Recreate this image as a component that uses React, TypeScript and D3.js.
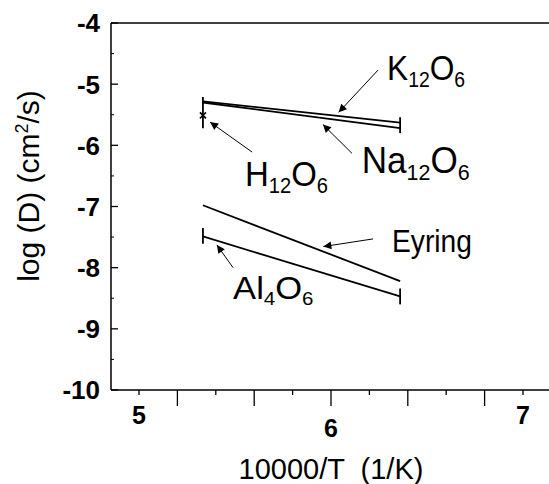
import React from "react";
import * as d3 from "d3";

// ---- data ----
const seriesNames = ["K12O6", "Na12O6", "Eyring", "Al4O6"];
const xStart = 5.333;
const xEnd = 6.36;
const kValues = [-5.28, -5.63];
const naValues = [-5.30, -5.72];
const eyringValues = [-6.98, -8.22];
const alValues = [-7.49, -8.47];
const hPoint = { x: 5.333, y: -5.51 };
// vertical bars (x, yLow, yHigh)
const errBars = [
  { x: 5.333, lo: -5.72, hi: -5.21 },
  { x: 6.36, lo: -5.8, hi: -5.54 },
  { x: 5.333, lo: -7.61, hi: -7.35 },
  { x: 6.36, lo: -8.6, hi: -8.34 },
];
const yTicks = [-4, -5, -6, -7, -8, -9, -10];
const yMinorTicks = [-4.5, -5.5, -6.5, -7.5, -8.5, -9.5];
const xMajorTicks = [5.2, 5.6, 6.0, 6.4, 6.8];
const xMinorTicks = [5.0, 5.4, 5.8, 6.2, 6.6, 7.0];
const xTickLabels = [
  { v: 5, t: "5", low: false },
  { v: 6, t: "6", low: true },
  { v: 7, t: "7", low: false },
];
// annotation arrows: from (x1,y1) to (x2,y2) in data units
const arrows = [
  { x1: 6.245, y1: -4.77, x2: 6.04, y2: -5.46 },
  { x1: 6.109, y1: -6.13, x2: 5.958, y2: -5.66 },
  { x1: 5.589, y1: -6.11, x2: 5.37, y2: -5.62 },
  { x1: 6.219, y1: -7.53, x2: 5.96, y2: -7.655 },
  { x1: 5.49, y1: -8.0, x2: 5.406, y2: -7.63 },
];
// labels: parts with subscripts, anchor at left baseline in data units
const labels = [
  { x: 6.292, y: -4.93, parts: [["K", 0], ["12", 1], ["O", 0], ["6", 1]] },
  { x: 6.16, y: -6.46, parts: [["Na", 0], ["12", 1], ["O", 0], ["6", 1]] },
  { x: 5.552, y: -6.66, parts: [["H", 0], ["12", 1], ["O", 0], ["6", 1]] },
  { x: 6.318, y: -7.75, parts: [["Eyring", 0]] },
  { x: 5.49, y: -8.51, parts: [["Al", 0], ["4", 1], ["O", 0], ["6", 1]] },
];
// label styles (font size, horizontal scale)
const labelStyle = [
  { fs: 36, sx: 0.88 },
  { fs: 36, sx: 0.975 },
  { fs: 36, sx: 0.915 },
  { fs: 32, sx: 0.88 },
  { fs: 32, sx: 1.08 },
];

const W = 549;
const H = 484;
const left = 111;
const top = 23;
const bottom = 390;

export default function App() {
  const x = d3.scaleLinear().domain([5, 7]).range([139, 523]);
  const y = d3.scaleLinear().domain([-4, -10]).range([top, bottom]);
  const line = d3
    .line<[number, number]>()
    .x((d) => x(d[0]))
    .y((d) => y(d[1]));
  const series = [kValues, naValues, eyringValues, alValues];
  const tickFont = "'Liberation Sans', Arial, sans-serif";
  const labFont = "'Liberation Sans', Arial, sans-serif";

  return (
    <svg
      width={W}
      height={H}
      style={{ position: "absolute", left: 0, top: 0, background: "#fff" }}
    >
      <defs>
        <marker
          id="ah"
          viewBox="0 0 10 10"
          refX="10"
          refY="5"
          markerWidth="11"
          markerHeight="8"
          markerUnits="userSpaceOnUse"
          orient="auto"
        >
          <path d="M0,0 L10,5 L0,10 z" fill="#000" />
        </marker>
      </defs>
      <rect width={W} height={H} fill="#fff" />
      {/* frame */}
      <line x1={left} x2={W} y1={top} y2={top} stroke="#000" strokeWidth={1.5} />
      <line x1={left} x2={left} y1={top} y2={bottom} stroke="#000" strokeWidth={1.5} />
      <line x1={left} x2={W} y1={bottom} y2={bottom} stroke="#000" strokeWidth={1.5} />
      {/* y ticks */}
      {yTicks.map((t) => (
        <g key={"yt" + t}>
          <line x1={left} x2={left + 7} y1={y(t)} y2={y(t)} stroke="#000" strokeWidth={1.3} />
          <text
            x={100}
            y={y(t)}
            dy="0.36em"
            textAnchor="end"
            fontFamily={tickFont}
            fontWeight="bold"
            fontSize={26}
          >
            {String(t)}
          </text>
        </g>
      ))}
      {yMinorTicks.map((t) => (
        <line key={"ym" + t} x1={left} x2={left + 3} y1={y(t)} y2={y(t)} stroke="#000" strokeWidth={1} />
      ))}
      {/* x ticks */}
      {xMajorTicks.map((t) => (
        <line key={"xM" + t} x1={x(t)} x2={x(t)} y1={bottom} y2={bottom + 16} stroke="#000" strokeWidth={1.3} />
      ))}
      {xMinorTicks.map((t) => (
        <line key={"xm" + t} x1={x(t)} x2={x(t)} y1={bottom} y2={bottom + 5} stroke="#000" strokeWidth={1.3} />
      ))}
      {xTickLabels.map((l) => (
        <text
          key={"xl" + l.t}
          x={x(l.v)}
          y={l.low ? 437 : 424}
          textAnchor="middle"
          fontFamily={tickFont}
          fontWeight="bold"
          fontSize={25}
        >
          {l.t}
        </text>
      ))}
      {/* axis titles */}
      <text
        x={331}
        y={479}
        textAnchor="middle"
        fontFamily={labFont}
        fontSize={29}
        style={{ whiteSpace: "pre" }}
      >
        {"10000/T  (1/K)"}
      </text>
      <text
        transform="translate(39,186) rotate(-90)"
        textAnchor="middle"
        fontFamily={labFont}
        fontSize={30}
      >
        log (D) (cm
        <tspan dy={-11} fontSize={18}>
          2
        </tspan>
        <tspan dy={11}>/s)</tspan>
      </text>
      {/* series lines */}
      {series.map((vals, i) => (
        <path
          key={seriesNames[i]}
          d={line([
            [xStart, vals[0]],
            [xEnd, vals[1]],
          ]) as string}
          fill="none"
          stroke="#000"
          strokeWidth={1.8}
        />
      ))}
      {errBars.map((b, i) => (
        <line key={"eb" + i} x1={x(b.x)} x2={x(b.x)} y1={y(b.lo)} y2={y(b.hi)} stroke="#000" strokeWidth={1.8} />
      ))}
      {/* H12O6 point */}
      <g transform={`translate(${x(hPoint.x)},${y(hPoint.y)})`}>
        <line x1={-3} x2={3} y1={-3} y2={3} stroke="#000" strokeWidth={1.6} />
        <line x1={-3} x2={3} y1={3} y2={-3} stroke="#000" strokeWidth={1.6} />
      </g>
      {/* arrows */}
      {arrows.map((a, i) => (
        <line
          key={"ar" + i}
          x1={x(a.x1)}
          y1={y(a.y1)}
          x2={x(a.x2)}
          y2={y(a.y2)}
          stroke="#000"
          strokeWidth={1}
          markerEnd="url(#ah)"
        />
      ))}
      {/* labels */}
      {labels.map((l, i) => {
        const st = labelStyle[i];
        const sub = Math.round(st.fs * 0.6);
        const off = Math.round(st.fs * 0.2);
        return (
          <text
            key={"lb" + i}
            transform={`translate(${x(l.x)},${y(l.y)}) scale(${st.sx},1)`}
            fontFamily={labFont}
            fontSize={st.fs}
          >
            {l.parts.map((p, j) => {
              const isSub = p[1] === 1;
              const prevSub = j > 0 && l.parts[j - 1][1] === 1;
              const dy = isSub && !prevSub ? off : !isSub && prevSub ? -off : 0;
              return (
                <tspan key={j} dy={dy} fontSize={isSub ? sub : st.fs}>
                  {p[0] as string}
                </tspan>
              );
            })}
          </text>
        );
      })}
    </svg>
  );
}
